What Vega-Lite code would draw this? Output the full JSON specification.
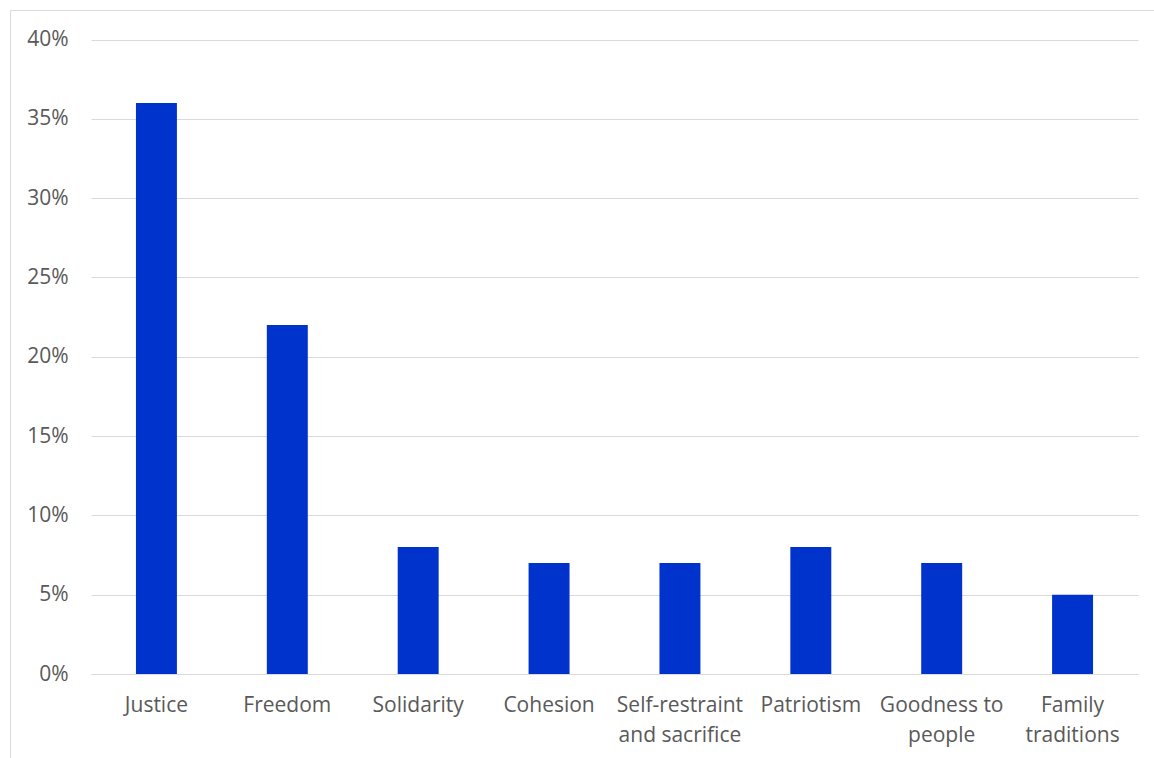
{
  "$schema": "https://vega.github.io/schema/vega-lite/v6.json",
  "autosize": "none",
  "width": 1144,
  "height": 748,
  "padding": {"left": 10, "top": 10, "right": 0, "bottom": 0},
  "background": "white",
  "title": {
    "text": "AND POVERTY IN ARMENIA",
    "font": "Liberation Serif",
    "fontSize": 21,
    "fontStyle": "italic",
    "fontWeight": "bold",
    "color": "#000000",
    "anchor": "middle",
    "baseline": "alphabetic",
    "offset": 5,
    "dx": 53
  },
  "config": {
    "view": {"stroke": "#d9d9d9", "strokeWidth": 1},
    "axis": {
      "labelFont": "Open Sans",
      "labelFontSize": 21,
      "labelColor": "#595959",
      "ticks": false,
      "title": null,
      "gridColor": "#d9d9d9",
      "gridWidth": 1
    }
  },
  "data": {
    "values": [
      {"value": "Justice", "share": 0.36},
      {"value": "Freedom", "share": 0.22},
      {"value": "Solidarity", "share": 0.08},
      {"value": "Cohesion", "share": 0.07},
      {"value": "Self-restraint and sacrifice", "share": 0.07},
      {"value": "Patriotism", "share": 0.08},
      {"value": "Goodness to people", "share": 0.07},
      {"value": "Family traditions", "share": 0.05}
    ]
  },
  "mark": {"type": "bar", "color": "#0033cc"},
  "encoding": {
    "x": {
      "field": "value",
      "type": "nominal",
      "sort": null,
      "scale": {"range": [81, 1128], "paddingInner": 0.687, "paddingOuter": 0.3435},
      "axis": {
        "offset": -84,
        "labelAngle": 0,
        "labelPadding": 20,
        "labelLineHeight": 30,
        "domainColor": "#d9d9d9",
        "domainWidth": 1,
        "grid": false,
        "labelExpr": "datum.value == 'Self-restraint and sacrifice' ? ['Self-restraint', 'and sacrifice'] : datum.value == 'Goodness to people' ? ['Goodness to', 'people'] : datum.value == 'Family traditions' ? ['Family', 'traditions'] : datum.value"
      }
    },
    "y": {
      "field": "share",
      "type": "quantitative",
      "scale": {"domain": [0, 0.4], "range": [664, 29.5], "nice": false},
      "axis": {
        "offset": -81,
        "format": ".0%",
        "values": [0, 0.05, 0.1, 0.15, 0.2, 0.25, 0.3, 0.35, 0.4],
        "labelOverlap": false,
        "domain": false,
        "labelPadding": 23,
        "grid": true
      }
    }
  }
}
